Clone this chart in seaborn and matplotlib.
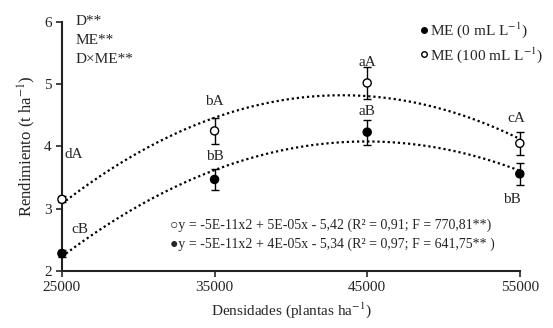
import numpy as np
import pandas as pd
import matplotlib
matplotlib.use("Agg")
import matplotlib.pyplot as plt
import seaborn as sns
from matplotlib.lines import Line2D

# ── Data ───────────────────────────────────────────────────────────────────────
densidades = [25000, 35000, 45000, 55000]
rend_0 = [2.28, 3.47, 4.23, 3.56]
err_0 = [0.05, 0.17, 0.20, 0.18]
rend_100 = [3.15, 4.25, 5.02, 4.05]
err_100 = [0.05, 0.21, 0.25, 0.18]
letras_0 = ["cB", "bB", "aB", "bB"]
letras_100 = ["dA", "bA", "aA", "cA"]
eq_100 = "○y = -5E-11x2 + 5E-05x - 5,42 (R² = 0,91; F = 770,81**)"
eq_0 = "●y = -5E-11x2 + 4E-05x - 5,34 (R² = 0,97; F = 641,75** )"
signif = ["D**", "ME**", "D×ME**"]

df = pd.DataFrame({
    "dens": densidades * 2,
    "rend": rend_0 + rend_100,
    "err": err_0 + err_100,
    "ME": ["0"] * 4 + ["100"] * 4,
})

sns.set_style("ticks")
plt.rcParams["font.family"] = ["Liberation Serif", "DejaVu Sans"]
plt.rcParams["mathtext.fontset"] = "stix"

fig = plt.figure(figsize=(5.53, 3.28), dpi=100)
ax = fig.add_axes([0.112, 0.174, 0.828, 0.759])

# trend lines (quadratic)
for g in ["0", "100"]:
    sub = df[df["ME"] == g]
    sns.regplot(data=sub, x="dens", y="rend", order=2, ci=None, scatter=False,
                truncate=True, ax=ax,
                line_kws=dict(color="black", lw=1.6, ls=(0, (1, 1.3))))

# error bars
for g in ["0", "100"]:
    sub = df[df["ME"] == g]
    ax.errorbar(sub["dens"], sub["rend"], yerr=sub["err"], fmt="none",
                ecolor="black", elinewidth=1.0, capsize=3.2, capthick=1.0,
                zorder=5, clip_on=False)

# points
sns.scatterplot(data=df, x="dens", y="rend", hue="ME",
                palette={"0": "black", "100": "white"}, edgecolor="black",
                linewidth=1.0, s=34, legend=False, ax=ax, zorder=6)

# letters
off_0 = [(1200, 0.38), (0, 0.37), (0, 0.33), (-500, -0.42)]
off_100 = [(800, 0.72), (0, 0.48), (0, 0.33), (-200, 0.4)]
for x, y, t, o in zip(densidades, rend_0, letras_0, off_0):
    ax.text(x + o[0], y + o[1], t, ha="center", va="center", fontsize=11)
for x, y, t, o in zip(densidades, rend_100, letras_100, off_100):
    ax.text(x + o[0], y + o[1], t, ha="center", va="center", fontsize=11)

# significance
for i, s in enumerate(signif):
    ax.text(0.03, 1.0 - i * 0.075, s, transform=ax.transAxes, ha="left",
            va="center", fontsize=11)

# equations
ax.text(0.235, 0.185, eq_100, transform=ax.transAxes, fontsize=10, va="center")
ax.text(0.235, 0.107, eq_0, transform=ax.transAxes, fontsize=10, va="center")

# legend
handles = [
    Line2D([], [], marker="o", ls="none", mfc="black", mec="black", ms=4),
    Line2D([], [], marker="o", ls="none", mfc="white", mec="black", ms=4),
]
ax.legend(handles, ["ME (0 mL L$^{-1}$)", "ME (100 mL L$^{-1}$)"],
          loc="upper right", bbox_to_anchor=(1.08, 1.06), frameon=False,
          fontsize=11, handlelength=0.6, handletextpad=0.1, labelspacing=0.3)

ax.set_xlim(25000, 55000)
ax.set_ylim(2, 6)
ax.set_xticks([25000, 35000, 45000, 55000])
ax.set_yticks([2, 3, 4, 5, 6])
ax.set_xlabel("Densidades (plantas ha$^{-1}$)", fontsize=11)
ax.set_ylabel("Rendimiento (t ha$^{-1}$)", fontsize=12)
ax.tick_params(labelsize=11, width=1.2, length=4, direction="out")
sns.despine(ax=ax)
for sp in ["left", "bottom"]:
    ax.spines[sp].set_linewidth(1.5)
    ax.spines[sp].set_color("#222222")
for c in ax.collections:
    c.set_clip_on(False)

fig.savefig("out.png", dpi=100)
